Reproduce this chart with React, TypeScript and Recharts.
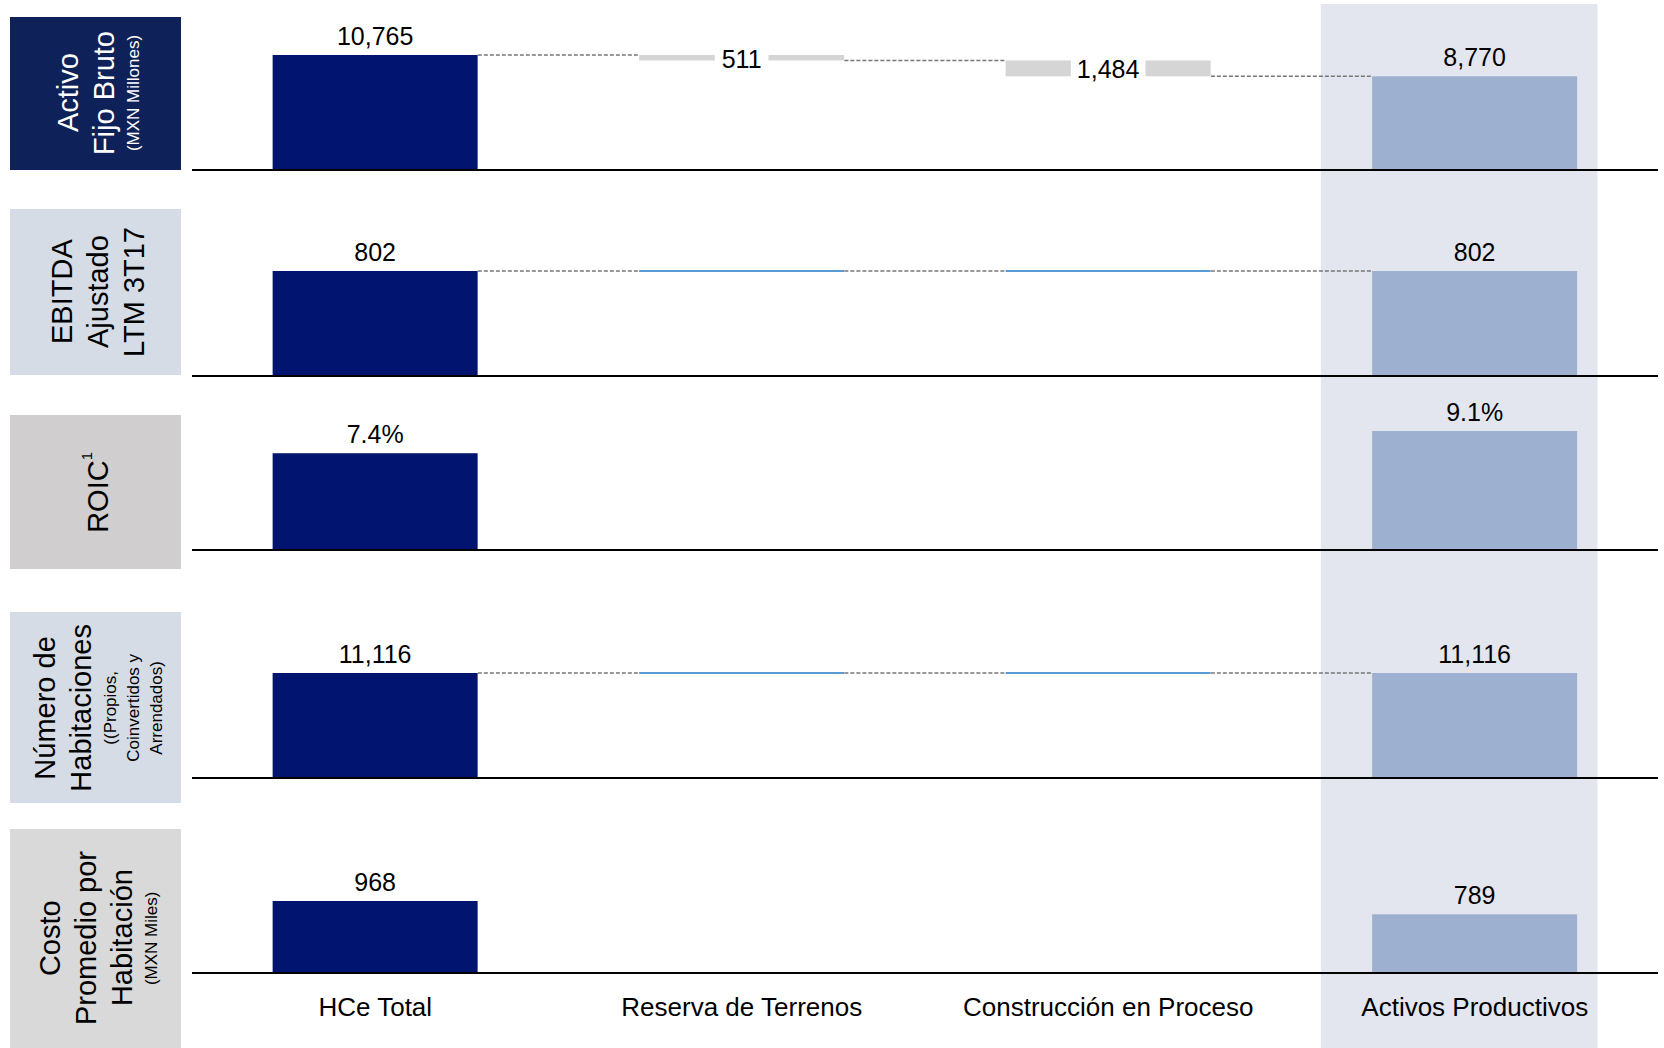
import React from "react"
import { BarChart, Bar, XAxis, YAxis, ReferenceLine, ReferenceArea, LabelList } from "recharts"

const FONT = '"Liberation Sans", Arial, Helvetica, sans-serif'

const categories = ["HCe Total", "Reserva de Terrenos", "Construcción en Proceso", "Activos Productivos"]

// start total, two changes, end total (null = no bar)
const activoFijo = [10765, -511, -1484, 8770]
const ebitda = [802, 0, 0, 802]
const roic = [7.4, null, null, 9.1]
const habitaciones = [11116, 0, 0, 11116]
const costoHabitacion = [968, null, null, 789]

const rowSeries: (number | null)[][] = [activoFijo, ebitda, roic, habitaciones, costoHabitacion]

const fmtInt = (v: number) => v.toLocaleString("en-US")
const fmtPct = (v: number) => v.toFixed(1) + "%"
const rowFormats = [fmtInt, fmtInt, fmtPct, fmtInt, fmtInt]

const rowTitles = [
  { big: ["Activo", "Fijo Bruto"], sup: "", small: ["(MXN Millones)"] },
  { big: ["EBITDA", "Ajustado", "LTM 3T17"], sup: "", small: [] },
  { big: ["ROIC"], sup: "1", small: [] },
  { big: ["Número de", "Habitaciones"], sup: "", small: ["((Propios,", "Coinvertidos y", "Arrendados)"] },
  { big: ["Costo", "Promedio por", "Habitación"], sup: "", small: ["(MXN Miles)"] },
]

// colours
const NAVY = "#001470"
const LIGHT = "#9eb0cf"
const GRAY = "#d5d5d5"
const FLAT = "#5b9bd5"
const SHADE = "#e3e6ee"

// layout of the stacked rows (pixel rows inside one plot area)
const W = 1664
const H = 1048
const MARGIN = { top: 4, right: 6, bottom: 0, left: 192 }
const BAR_GAP = 0.22
const rowLayout = [
  { base: 170, top: 55 },
  { base: 376, top: 271 },
  { base: 550, top: 431 },
  { base: 778, top: 673 },
  { base: 973, top: 901 },
]
const titleBoxes = [
  { y: 17, h: 153, bg: "#0e2158", color: "#ffffff" },
  { y: 209, h: 166, bg: "#d6dce5", color: "#000000" },
  { y: 415, h: 154, bg: "#d0cece", color: "#000000" },
  { y: 612, h: 191, bg: "#d6dce5", color: "#000000" },
  { y: 829, h: 219, bg: "#d9d9d9", color: "#000000" },
]

const plotTop = MARGIN.top
const plotBottom = H - MARGIN.bottom

const domains = rowSeries.map((s, i) => {
  const max = Math.max(...(s.filter(v => v != null) as number[]))
  const { base, top } = rowLayout[i]
  const k = (base - top) / max
  return [-(plotBottom - base) / k, (base - plotTop) / k]
})

const runningAfter = (s: (number | null)[], j: number) => {
  let t = s[0] as number
  for (let m = 1; m <= j; m++) t += (s[m] as number) ?? 0
  return t
}

const data = categories.map((cat, j) => {
  const row: Record<string, any> = { cat }
  rowSeries.forEach((s, i) => {
    const v = s[j]
    const last = s.length - 1
    if (v == null) {
      row[`r${i}`] = null
      return
    }
    if (j === 0 || j === last) {
      row[`r${i}`] = [0, v]
      row[`t${i}`] = rowFormats[i](v)
      row[`k${i}`] = "total"
    } else {
      const before = runningAfter(s, j - 1)
      const after = before + v
      row[`r${i}`] = [Math.min(before, after), Math.max(before, after)]
      row[`k${i}`] = v === 0 ? "flat" : "delta"
      if (v !== 0) row[`d${i}`] = rowFormats[i](Math.abs(v))
    }
  })
  return row
})

// dashed connectors between consecutive bars
const connectors = rowSeries.map(s => {
  if (s[1] == null) return []
  return categories.slice(0, -1).map((c, j) => ({ from: c, to: categories[j + 1], level: runningAfter(s, j) }))
})

const rows = [0, 1, 2, 3, 4]

const barShape = (i: number) => (p: any) => {
  const { x, y, width, height, index, payload } = p
  const kind = payload?.[`k${i}`]
  if (!kind || !Number.isFinite(y) || !Number.isFinite(x)) return <g />
  if (kind === "flat") {
    return <line x1={x} x2={x + width} y1={y} y2={y} stroke={FLAT} strokeWidth={2} />
  }
  const fill = kind === "delta" ? GRAY : index === 0 ? NAVY : LIGHT
  const top = Math.min(y, y + height)
  return <rect x={x} y={top} width={width} height={Math.abs(height)} fill={fill} />
}

// segment goes centre to centre of neighbouring bands; trim it to the bar edges
const connectorShape = (p: any) => {
  const d = p.x2 - p.x1
  const half = d * (0.5 - BAR_GAP)
  return (
    <line
      x1={p.x1 + half}
      x2={p.x2 - half}
      y1={p.y1}
      y2={p.y2}
      stroke="#777777"
      strokeWidth={1.5}
      strokeDasharray="4 2"
    />
  )
}

const box = (p: any) => {
  const vb = p.viewBox && p.viewBox.width != null ? p.viewBox : p
  const top = Math.min(vb.y, vb.y + vb.height)
  return { x: vb.x, y: top, width: vb.width, height: Math.abs(vb.height) }
}

const totalLabel = (p: any) => {
  if (p.value == null || p.value === "") return null
  const b = box(p)
  if (!Number.isFinite(b.x)) return null
  return (
    <text x={b.x + b.width / 2} y={b.y - 10} textAnchor="middle" fontSize={25} fontFamily={FONT} fill="#000">
      {p.value}
    </text>
  )
}

const deltaLabel = (p: any) => {
  if (p.value == null || p.value === "") return null
  const b = box(p)
  if (!Number.isFinite(b.x)) return null
  const text = String(p.value)
  const tw = text.split("").reduce((a, ch) => a + (ch === "," || ch === "." ? 0.278 : 0.556), 0) * 25 + 12
  const cx = b.x + b.width / 2
  const cy = b.y + b.height / 2
  return (
    <g>
      <rect x={cx - tw / 2} y={b.y - 1} width={tw} height={b.height + 2} fill="#ffffff" />
      <text x={cx} y={cy + 1} textAnchor="middle" dominantBaseline="central" fontSize={25} fontFamily={FONT} fill="#000">
        {text}
      </text>
    </g>
  )
}

const CategoryTick = (p: any) => (
  <text x={p.x} y={rowLayout[4].base + 43} textAnchor="middle" fontSize={26} fontFamily={FONT} fill="#000">
    {p.payload?.value}
  </text>
)

function RowTitle({ i }: { i: number }) {
  const b = titleBoxes[i]
  const t = rowTitles[i]
  return (
    <div
      style={{
        position: "absolute", left: 10, top: b.y, width: 171, height: b.h, background: b.bg, color: b.color,
        display: "flex", alignItems: "center", justifyContent: "center", paddingLeft: 4, boxSizing: "border-box",
        fontFamily: FONT,
      }}
    >
      <div style={{ writingMode: "vertical-rl", transform: "rotate(180deg)", textAlign: "center", whiteSpace: "nowrap" }}>
        {t.big.map((s, k) => (
          <div key={k} style={{ fontSize: 29, lineHeight: "36px" }}>
            {s}
            {t.sup && k === t.big.length - 1 && (
              <span style={{ fontSize: 15, verticalAlign: "super", lineHeight: 0 }}>{t.sup}</span>
            )}
          </div>
        ))}
        {t.small.map((s, k) => (
          <div key={k} style={{ fontSize: 17, lineHeight: "23px" }}>{s}</div>
        ))}
      </div>
    </div>
  )
}

export default function App() {
  const lastCat = categories[categories.length - 1]
  return (
    <div style={{ position: "absolute", left: 0, top: 0, width: W, height: H, background: "#fff", overflow: "hidden" }}>
      <div style={{ position: "absolute", left: 0, top: 0 }}>
        <BarChart width={W} height={H} data={data} margin={MARGIN} barCategoryGap={`${BAR_GAP * 100}%`}>
          {rows.map(i => (
            <XAxis
              key={`x${i}`}
              xAxisId={i}
              dataKey="cat"
              hide={i !== 4}
              mirror
              axisLine={false}
              tickLine={false}
              tickSize={0}
              tickMargin={0}
              interval={0}
              tick={<CategoryTick />}
            />
          ))}
          {rows.map(i => (
            <YAxis key={`y${i}`} yAxisId={i} type="number" hide domain={domains[i]} allowDataOverflow />
          ))}
          <ReferenceArea
            xAxisId={0}
            yAxisId={0}
            x1={lastCat}
            x2={lastCat}
            zIndex={-90}
            fill={SHADE}
            fillOpacity={1}
            shape={(p: any) => (
              <rect x={p.x + p.width * 0.08} y={p.y} width={p.width * 0.755} height={p.height} fill={SHADE} />
            )}
          />
          {rows.map(i =>
            connectors[i].map((c, j) => (
              <ReferenceLine
                key={`c${i}-${j}`}
                xAxisId={i}
                yAxisId={i}
                zIndex={-80}
                segment={[{ x: c.from, y: c.level }, { x: c.to, y: c.level }]}
                shape={connectorShape}
              />
            ))
          )}
          {rows.map(i => (
            <Bar
              key={`b${i}`}
              xAxisId={i}
              yAxisId={i}
              dataKey={`r${i}`}
              isAnimationActive={false}
              shape={barShape(i)}
            >
              <LabelList dataKey={`t${i}`} content={totalLabel} />
              <LabelList dataKey={`d${i}`} content={deltaLabel} />
            </Bar>
          ))}
          {rows.map(i => (
            <ReferenceLine key={`z${i}`} xAxisId={i} yAxisId={i} y={0} zIndex={450} stroke="#000" strokeWidth={2} />
          ))}
        </BarChart>
      </div>
      {rows.map(i => <RowTitle key={i} i={i} />)}
    </div>
  )
}
